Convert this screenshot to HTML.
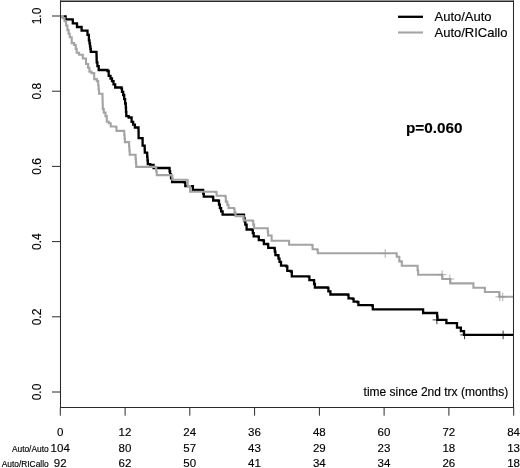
<!DOCTYPE html>
<html><head><meta charset="utf-8"><title>Survival</title>
<style>
html,body{margin:0;padding:0;background:#fff;}
body{width:520px;height:468px;overflow:hidden;position:relative;font-family:"Liberation Sans",sans-serif;}
</style></head><body>
<svg width="520" height="468" viewBox="0 0 520 468" style="position:absolute;left:0;top:0;will-change:transform;transform:translateZ(0)">
<rect x="0" y="0" width="520" height="468" fill="#fff"/>
<polyline points="60.0,16.3 64.8,16.3 65.6,16.3 65.6,19.3 66.4,19.3 72.6,19.3 72.6,19.6 72.8,19.6 72.8,23.4 73.0,23.4 76.8,23.4 76.8,23.5 77.0,23.5 77.0,27.0 77.2,27.0 81.4,27.0 81.4,27.1 81.6,27.1 81.6,30.6 81.8,30.6 86.6,30.6 86.6,30.7 87.5,30.7 87.5,34.9 88.5,34.9 88.9,34.9 88.9,40.3 89.3,40.3 89.5,40.3 89.5,43.3 90.0,43.3 90.0,46.3 90.2,46.3 90.4,46.3 90.4,49.0 90.8,49.0 90.8,51.8 91.0,51.8 96.4,51.8 96.4,52.3 96.5,52.3 96.5,55.6 96.6,55.6 96.6,59.0 96.7,59.0 96.7,62.3 96.8,62.3 97.4,62.3 97.4,66.2 98.7,66.2 98.7,70.0 99.3,70.0 107.5,70.0 107.5,71.0 108.7,71.0 108.7,75.8 109.8,75.8 110.5,75.8 110.5,78.5 112.0,78.5 112.0,81.2 112.7,81.2 113.5,81.2 113.5,84.3 115.2,84.3 115.2,87.5 116.0,87.5 121.5,87.5 121.5,88.7 122.0,88.7 122.0,91.8 123.2,91.8 123.2,95.0 123.7,95.0 124.2,95.0 124.2,99.2 125.1,99.2 125.1,103.5 125.6,103.5 125.8,103.5 125.8,107.7 126.0,107.7 126.0,111.9 126.3,111.9 126.3,116.1 126.5,116.1 128.7,116.1 128.7,117.5 130.8,117.5 131.6,117.5 131.6,121.8 132.3,121.8 133.2,121.8 133.2,124.7 134.9,124.7 134.9,127.5 135.8,127.5 138.5,127.5 138.5,128.5 138.5,128.5 138.5,131.7 138.6,131.7 138.6,134.9 138.6,134.9 138.6,138.1 138.6,138.1 142.5,138.1 142.5,138.5 142.6,138.5 142.6,142.1 142.6,142.1 142.6,145.7 142.7,145.7 144.6,145.7 144.6,146.0 144.7,146.0 144.7,149.3 144.8,149.3 144.8,152.7 144.8,152.7 147.0,152.7 147.0,153.1 147.2,153.1 147.2,156.8 147.5,156.8 147.5,160.5 147.8,160.5 147.8,164.2 148.0,164.2 150.2,164.2 150.2,164.8 153.6,164.8 153.6,168.0 157.0,168.0 169.3,168.0 169.3,168.3 169.6,168.3 169.6,171.4 170.1,171.4 170.1,174.5 170.4,174.5 171.0,174.5 171.0,178.3 172.1,178.3 172.1,182.2 172.7,182.2 184.8,182.2 184.8,182.8 185.3,182.8 185.3,186.1 185.8,186.1 191.5,186.1 192.9,186.1 192.9,189.9 194.4,189.9 203.0,189.9 203.0,190.5 203.2,190.5 203.2,193.6 203.8,193.6 203.8,196.7 204.0,196.7 212.7,196.7 212.7,197.0 213.2,197.0 213.2,200.5 213.7,200.5 218.5,200.5 218.5,200.9 219.0,200.9 219.0,204.6 219.9,204.6 219.9,208.2 220.4,208.2 221.1,208.2 221.1,211.4 222.6,211.4 222.6,214.7 223.3,214.7 243.7,214.7 243.7,214.8 244.0,214.8 244.0,218.1 244.6,218.1 244.6,221.4 245.3,221.4 245.3,224.7 245.6,224.7 246.6,224.7 246.6,229.5 247.5,229.5 252.3,229.5 252.3,229.9 252.8,229.9 252.8,233.1 253.7,233.1 253.7,236.3 254.2,236.3 258.0,236.3 258.0,236.7 258.8,236.7 258.8,240.1 259.6,240.1 262.9,240.1 262.9,240.5 263.9,240.5 263.9,244.0 264.8,244.0 267.7,244.0 267.7,244.3 268.2,244.3 268.2,247.8 268.7,247.8 274.4,247.8 274.4,248.3 274.8,248.3 274.8,251.7 275.4,251.7 275.4,255.1 275.8,255.1 278.0,255.1 278.0,255.5 278.5,255.5 278.5,258.6 279.5,258.6 279.5,261.8 280.0,261.8 281.0,261.8 281.0,265.7 282.0,265.7 286.3,265.7 286.3,266.3 287.3,266.3 287.3,270.9 288.3,270.9 290.8,270.9 290.8,271.5 291.8,271.5 291.8,276.3 292.7,276.3 308.5,276.3 308.5,276.7 309.4,276.7 309.4,280.1 310.4,280.1 313.8,280.1 313.8,280.5 314.1,280.5 314.1,284.0 314.9,284.0 314.9,287.5 315.2,287.5 327.7,287.5 327.7,287.8 328.4,287.8 328.4,291.3 329.2,291.3 330.4,291.3 330.4,294.5 331.5,294.5 347.9,294.5 347.9,294.9 348.5,294.9 348.5,298.4 349.2,298.4 352.7,298.4 352.7,298.8 353.6,298.8 353.6,301.7 354.6,301.7 357.5,301.7 357.5,302.2 358.4,302.2 358.4,305.1 359.4,305.1 372.1,305.1 372.1,305.5 372.8,305.5 372.8,309.3 373.5,309.3 422.5,309.3 423.1,309.3 423.1,313.0 423.7,313.0 436.9,313.0 437.1,313.0 437.1,316.4 437.5,316.4 437.5,319.9 437.7,319.9 446.0,319.9 446.4,319.9 446.4,323.2 446.9,323.2 456.5,323.2 457.0,323.2 457.0,327.6 457.5,327.6 460.4,327.6 460.9,327.6 460.9,331.1 461.3,331.1 463.3,331.1 464.0,331.1 464.0,334.9 464.6,334.9 513.3,334.9" fill="none" stroke="#000" stroke-width="2.3" stroke-linejoin="miter"/>
<path d="M432.6,319.9H441.2M436.9,315.6V324.2" stroke="#000" stroke-width="0.8" fill="none"/>
<path d="M460.3,334.9H468.9M464.6,330.6V339.2" stroke="#000" stroke-width="0.8" fill="none"/>
<path d="M498.8,334.9H507.4M503.1,330.6V339.2" stroke="#000" stroke-width="0.8" fill="none"/>

<polyline points="60.0,16.1 62.0,16.1 62.8,16.1 62.8,18.1 63.6,18.1 64.5,18.1 64.5,21.3 65.4,21.3 66.1,21.3 66.1,25.5 66.8,25.5 67.4,25.5 67.4,30.1 68.0,30.1 68.6,30.1 68.6,33.7 69.8,33.7 69.8,37.3 70.4,37.3 71.7,37.3 71.7,43.1 72.9,43.1 74.1,43.1 74.1,45.0 75.2,45.0 75.7,45.0 75.7,48.9 76.7,48.9 76.7,52.7 77.2,52.7 79.1,52.7 79.1,54.7 81.0,54.7 82.8,54.7 82.8,58.5 84.5,58.5 86.0,58.5 86.0,64.0 87.5,64.0 88.1,64.0 88.1,67.8 89.4,67.8 89.4,71.6 90.0,71.6 91.5,71.6 91.5,73.1 93.0,73.1 94.2,73.1 94.2,79.1 95.5,79.1 96.8,79.1 96.8,81.1 98.0,81.1 98.2,81.1 98.2,85.3 98.6,85.3 98.6,89.5 99.0,89.5 99.0,93.7 99.2,93.7 102.4,93.7 102.4,94.1 102.5,94.1 102.5,97.8 102.6,97.8 102.6,101.6 102.7,101.6 102.7,105.3 102.8,105.3 102.8,109.1 102.9,109.1 103.8,109.1 103.8,112.6 105.5,112.6 105.5,116.1 106.3,116.1 106.8,116.1 106.8,121.8 107.3,121.8 108.8,121.8 108.8,123.2 110.2,123.2 110.7,123.2 110.7,126.5 111.2,126.5 116.0,126.5 116.0,127.2 116.5,127.2 116.5,130.9 117.0,130.9 124.2,130.9 124.2,131.5 124.3,131.5 124.3,135.0 124.6,135.0 124.6,138.6 124.9,138.6 124.9,142.1 125.0,142.1 129.0,142.1 129.0,142.5 129.1,142.5 129.1,146.6 129.4,146.6 129.4,150.6 129.7,150.6 129.7,154.7 129.8,154.7 135.4,154.7 135.4,155.0 135.6,155.0 135.6,159.0 135.9,159.0 135.9,162.9 136.2,162.9 136.2,166.9 136.4,166.9 156.0,166.9 156.0,167.9 156.2,167.9 156.2,171.5 156.8,171.5 156.8,175.1 157.0,175.1 171.3,175.1 171.3,175.5 172.3,175.5 172.3,179.7 173.3,179.7 186.7,179.7 186.7,180.3 187.7,180.3 187.7,186.1 188.7,186.1 190.1,186.1 190.1,191.8 191.5,191.8 215.6,191.8 215.6,192.1 216.6,192.1 216.6,195.8 217.7,195.8 224.8,195.8 224.8,196.2 225.8,196.2 225.8,201.6 226.7,201.6 227.3,201.6 227.3,204.8 228.5,204.8 228.5,208.0 229.1,208.0 234.0,208.0 234.0,208.8 234.5,208.8 234.5,212.4 235.5,212.4 235.5,216.1 236.0,216.1 242.7,216.1 242.7,216.3 243.6,216.3 243.6,220.5 244.6,220.5 252.7,220.5 252.7,220.9 253.2,220.9 253.2,224.6 254.1,224.6 254.1,228.3 254.6,228.3 267.6,228.3 267.6,228.4 267.8,228.4 267.8,231.9 268.1,231.9 268.1,235.5 268.2,235.5 271.4,235.5 271.4,235.7 271.6,235.7 271.6,240.7 271.8,240.7 288.6,240.7 288.6,240.9 289.1,240.9 289.1,244.8 289.6,244.8 311.9,244.8 311.9,245.1 312.6,245.1 312.6,249.3 313.3,249.3 317.1,249.3 317.1,249.7 317.8,249.7 317.8,253.3 318.5,253.3 396.6,253.3 396.6,253.4 396.7,253.4 396.7,256.8 396.8,256.8 399.2,256.8 399.2,256.9 399.3,256.9 399.3,261.4 399.4,261.4 401.7,261.4 401.7,261.5 401.8,261.5 401.8,265.7 401.9,265.7 417.3,265.7 417.3,265.8 417.6,265.8 417.6,270.2 418.1,270.2 418.1,274.7 418.3,274.7 441.9,274.7 442.3,274.7 442.3,279.0 442.7,279.0 449.8,279.0 450.3,279.0 450.3,283.4 450.8,283.4 472.9,283.4 473.4,283.4 473.4,287.8 473.8,287.8 484.4,287.8 484.9,287.8 484.9,292.0 485.4,292.0 498.8,292.0 499.3,292.0 499.3,296.8 499.8,296.8 513.3,296.8" fill="none" stroke="#a4a4a4" stroke-width="2.1" stroke-linejoin="miter"/>
<path d="M380.9,253.5H389.5M385.2,249.2V257.8" stroke="#999" stroke-width="0.8" fill="none"/>
<path d="M437.8,274.7H446.4M442.1,270.4V279.0" stroke="#999" stroke-width="0.8" fill="none"/>
<path d="M445.5,279.0H454.1M449.8,274.7V283.3" stroke="#999" stroke-width="0.8" fill="none"/>
<path d="M495.5,296.8H504.1M499.8,292.5V301.1" stroke="#999" stroke-width="0.8" fill="none"/>
<path d="M498.4,296.8H507.0M502.7,292.5V301.1" stroke="#999" stroke-width="0.8" fill="none"/>

<path d="M60.5,0.6V407.5H513.5V0.6" fill="none" stroke="#2a2a2a" stroke-width="1.05"/>
<path d="M60,1.25H514" fill="none" stroke="#2a2a2a" stroke-width="1.3"/>
<path d="M60.3,407.5V415.7M125.1,407.5V415.7M189.8,407.5V415.7M254.6,407.5V415.7M319.4,407.5V415.7M384.1,407.5V415.7M448.9,407.5V415.7M513.7,407.5V415.7M52,16.0H60.5M52,91.2H60.5M52,166.4H60.5M52,241.6H60.5M52,316.8H60.5M52,392.0H60.5" stroke="#2a2a2a" stroke-width="1" fill="none"/>
<path d="M398,16.8H423" stroke="#000" stroke-width="2.3"/>
<path d="M398,32.5H423" stroke="#a4a4a4" stroke-width="2.1"/>
<g style="font-family:'Liberation Sans',sans-serif;" fill="#000" stroke="#000" stroke-width="0.15">
<text x="434.5" y="21.3" font-size="13">Auto/Auto</text>
<text x="434.5" y="37" font-size="13">Auto/RICallo</text>
<text x="406" y="133" font-size="15.3" font-weight="bold">p=0.060</text>
<text x="508.3" y="395.6" font-size="12" text-anchor="end">time since 2nd trx (months)</text>
<text x="60.2" y="436.2" font-size="11.5" text-anchor="middle">0</text>
<text x="60.2" y="451.6" font-size="11.5" text-anchor="middle">104</text>
<text x="60.2" y="467.3" font-size="11.5" text-anchor="middle">92</text>
<text x="125.0" y="436.2" font-size="11.5" text-anchor="middle">12</text>
<text x="125.0" y="451.6" font-size="11.5" text-anchor="middle">80</text>
<text x="125.0" y="467.3" font-size="11.5" text-anchor="middle">62</text>
<text x="189.7" y="436.2" font-size="11.5" text-anchor="middle">24</text>
<text x="189.7" y="451.6" font-size="11.5" text-anchor="middle">57</text>
<text x="189.7" y="467.3" font-size="11.5" text-anchor="middle">50</text>
<text x="254.5" y="436.2" font-size="11.5" text-anchor="middle">36</text>
<text x="254.5" y="451.6" font-size="11.5" text-anchor="middle">43</text>
<text x="254.5" y="467.3" font-size="11.5" text-anchor="middle">41</text>
<text x="319.3" y="436.2" font-size="11.5" text-anchor="middle">48</text>
<text x="319.3" y="451.6" font-size="11.5" text-anchor="middle">29</text>
<text x="319.3" y="467.3" font-size="11.5" text-anchor="middle">34</text>
<text x="384.0" y="436.2" font-size="11.5" text-anchor="middle">60</text>
<text x="384.0" y="451.6" font-size="11.5" text-anchor="middle">23</text>
<text x="384.0" y="467.3" font-size="11.5" text-anchor="middle">34</text>
<text x="448.8" y="436.2" font-size="11.5" text-anchor="middle">72</text>
<text x="448.8" y="451.6" font-size="11.5" text-anchor="middle">18</text>
<text x="448.8" y="467.3" font-size="11.5" text-anchor="middle">26</text>
<text x="513.6" y="436.2" font-size="11.5" text-anchor="middle">84</text>
<text x="513.6" y="451.6" font-size="11.5" text-anchor="middle">13</text>
<text x="513.6" y="467.3" font-size="11.5" text-anchor="middle">18</text>
<text x="48.7" y="451.7" font-size="8.4" text-anchor="end">Auto/Auto</text>
<text x="48.7" y="467.2" font-size="8.4" text-anchor="end">Auto/RICallo</text>
<text transform="translate(41.3,16.0) rotate(-90)" font-size="12" text-anchor="middle">1.0</text>
<text transform="translate(41.3,91.2) rotate(-90)" font-size="12" text-anchor="middle">0.8</text>
<text transform="translate(41.3,166.4) rotate(-90)" font-size="12" text-anchor="middle">0.6</text>
<text transform="translate(41.3,241.6) rotate(-90)" font-size="12" text-anchor="middle">0.4</text>
<text transform="translate(41.3,316.8) rotate(-90)" font-size="12" text-anchor="middle">0.2</text>
<text transform="translate(41.3,392.0) rotate(-90)" font-size="12" text-anchor="middle">0.0</text>
</g></svg>
</body></html>
